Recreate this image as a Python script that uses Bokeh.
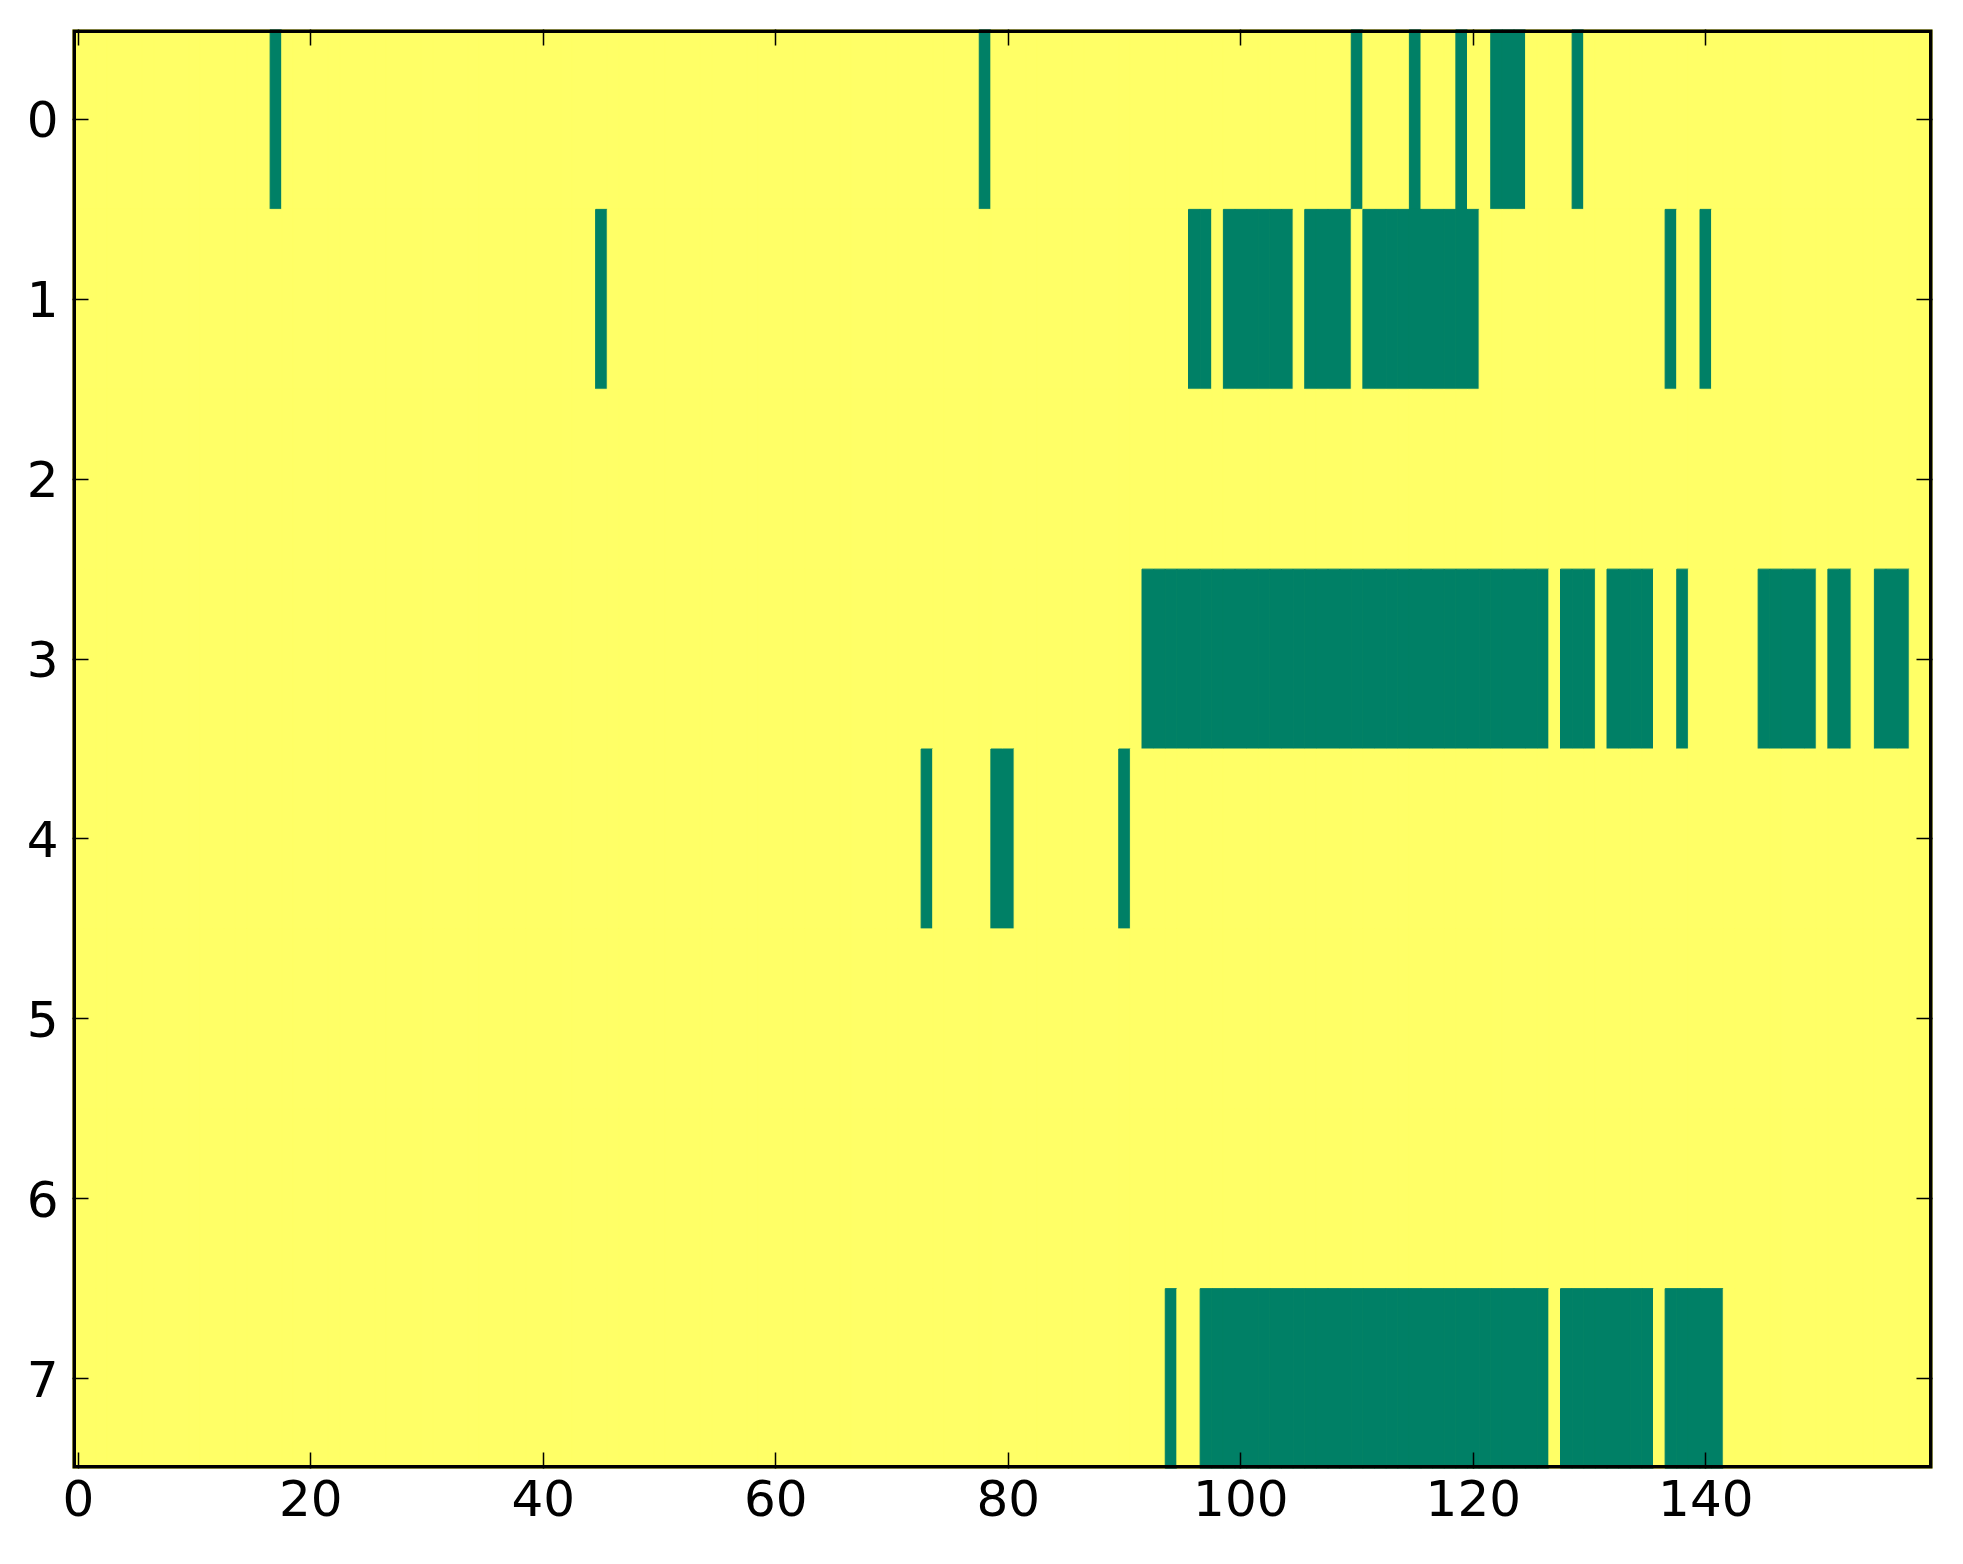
from bokeh.plotting import figure
from bokeh.models import Range1d, LinearAxis, FixedTicker, ColumnDataSource, BoxAnnotation
from bokeh.embed import file_html
from bokeh.resources import INLINE

# ---- data: 8 x 160 binary matrix, cells listed below are 0 (green), rest are 1 (yellow)
n_rows = 8
n_cols = 160
row0_zero_cols = [17, 78, 110, 115, 119, 122, 123, 124, 129]
row1_zero_cols = [45, 96, 97, 99, 100, 101, 102, 103, 104, 106, 107, 108, 109,
                  111, 112, 113, 114, 115, 116, 117, 118, 119, 120, 137, 140]
row2_zero_cols = []
row3_zero_cols = [92, 93, 94, 95, 96, 97, 98, 99, 100, 101, 102, 103, 104, 105, 106,
                  107, 108, 109, 110, 111, 112, 113, 114, 115, 116, 117, 118, 119,
                  120, 121, 122, 123, 124, 125, 126, 128, 129, 130, 132, 133, 134,
                  135, 138, 145, 146, 147, 148, 149, 151, 152, 155, 156, 157]
row4_zero_cols = [73, 79, 80, 90]
row5_zero_cols = []
row6_zero_cols = []
row7_zero_cols = [94, 97, 98, 99, 100, 101, 102, 103, 104, 105, 106, 107, 108, 109,
                  110, 111, 112, 113, 114, 115, 116, 117, 118, 119, 120, 121, 122,
                  123, 124, 125, 126, 128, 129, 130, 131, 132, 133, 134, 135, 137,
                  138, 139, 140, 141]
x_ticks = [0, 20, 40, 60, 80, 100, 120, 140]
y_ticks = [0, 1, 2, 3, 4, 5, 6, 7]

zero_rows = [row0_zero_cols, row1_zero_cols, row2_zero_cols, row3_zero_cols,
             row4_zero_cols, row5_zero_cols, row6_zero_cols, row7_zero_cols]

GREEN = "#008066"   # summer colormap at 0
YELLOW = "#FFFF66"  # summer colormap at 1

xs, ys, vals, cols = [], [], [], []
for r in range(n_rows):
    zs = set(zero_rows[r])
    for c in range(n_cols):
        v = 0 if c in zs else 1
        xs.append(c)
        ys.append(r)
        vals.append(v)
        cols.append(GREEN if v == 0 else YELLOW)
src = ColumnDataSource(dict(x=xs, y=ys, v=vals, color=cols))

p = figure(frame_width=1860, frame_height=1439,
           x_range=Range1d(-0.5, n_cols - 0.5), y_range=Range1d(n_rows - 0.5, -0.5),
           output_backend="svg", toolbar_location=None,
           min_border_left=72, min_border_right=23, min_border_top=29,
           min_border_bottom=80, background_fill_color=YELLOW,
           border_fill_color="white")

p.rect(x="x", y="y", width=1, height=1, fill_color="color", line_color="color",
       line_width=1, source=src)

p.grid.visible = False
p.outline_line_color = None

# frame drawn above the cells, like matplotlib's spines
p.add_layout(BoxAnnotation(fill_color=None, fill_alpha=0, line_color="black",
                           line_width=7, line_alpha=1))

bottom_axis = p.below[0]
left_axis = p.left[0]
bottom_axis.ticker = FixedTicker(ticks=x_ticks)
left_axis.ticker = FixedTicker(ticks=y_ticks)

top_axis = LinearAxis(ticker=FixedTicker(ticks=x_ticks))
right_axis = LinearAxis(ticker=FixedTicker(ticks=y_ticks))
p.add_layout(top_axis, "above")
p.add_layout(right_axis, "right")

for ax in [bottom_axis, left_axis, top_axis, right_axis]:
    ax.axis_line_color = None
    ax.major_tick_in = 16
    ax.major_tick_out = 0
    ax.major_tick_line_width = 1.5
    ax.major_tick_line_color = "black"
    ax.minor_tick_line_color = None
    ax.major_label_text_font = "DejaVu Sans"
    ax.major_label_text_font_size = "50px"
    ax.major_label_text_color = "black"

for ax in [top_axis, right_axis]:
    ax.major_label_text_color = None
    ax.major_label_text_font_size = "1px"
    ax.major_label_standoff = 0

bottom_axis.major_label_standoff = 11
left_axis.major_label_standoff = 14

open("out.html", "w").write(file_html(p, INLINE))
